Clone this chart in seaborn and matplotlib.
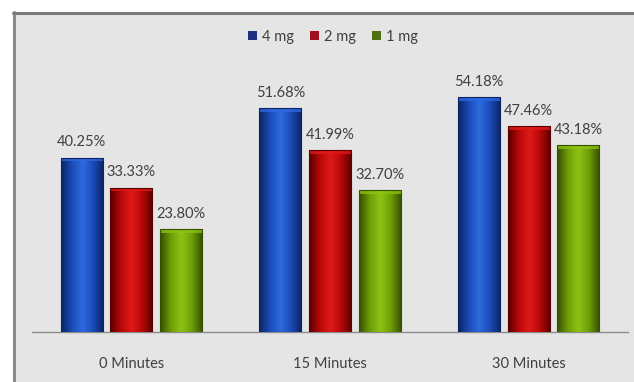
import numpy as np
import pandas as pd
import matplotlib
matplotlib.use("Agg")
import matplotlib.pyplot as plt
from matplotlib.patches import Rectangle
from matplotlib.colors import LinearSegmentedColormap
import seaborn as sns

# Data
times = ["0 Minutes", "15 Minutes", "30 Minutes"]
doses = ["4 mg", "2 mg", "1 mg"]
dose_4mg = [40.25, 51.68, 54.18]
dose_2mg = [33.33, 41.99, 47.46]
dose_1mg = [23.80, 32.70, 43.18]

df = pd.DataFrame({
    "time": times * 3,
    "dose": [doses[0]] * 3 + [doses[1]] * 3 + [doses[2]] * 3,
    "value": dose_4mg + dose_2mg + dose_1mg,
})

sns.set_theme(style="white")
plt.rcParams["font.family"] = ["Lato", "DejaVu Sans"]

base_colors = {"4 mg": "#1a4cb8", "2 mg": "#b80808", "1 mg": "#6f9e08"}
edge_colors = {"4 mg": "#0c2464", "2 mg": "#5a0000", "1 mg": "#345000"}
light_colors = {"4 mg": "#2f6ae0", "2 mg": "#e01a1a", "1 mg": "#8cc414"}
legend_colors = {"4 mg": "#1c2f80", "2 mg": "#a01020", "1 mg": "#4f7010"}

fig = plt.figure(figsize=(6.34, 3.82), dpi=100)
fig.patch.set_facecolor("white")

# Chart panel with a dark frame on the left and top
W, H = 634, 382
panel = Rectangle((13 / W, 0), 1 - 13 / W, 1 - 12 / H, transform=fig.transFigure,
                  facecolor="#e5e5e5", edgecolor="none", zorder=-10)
fig.patches.append(panel)
fig.add_artist(plt.Line2D([13.5 / W, 13.5 / W], [0, 1 - 12 / H], transform=fig.transFigure,
                          color="#8a8a8a", lw=2.2, zorder=-5))
fig.add_artist(plt.Line2D([13 / W, 1], [1 - 12.5 / H, 1 - 12.5 / H], transform=fig.transFigure,
                          color="#7a7a7a", lw=2.2, zorder=-5))

ax = fig.add_axes([32 / W, 50 / H, 596 / W, 260 / H])
ax.set_facecolor("none")
ax.set_zorder(1)

sns.barplot(data=df, x="time", y="value", hue="dose", order=times, hue_order=doses,
            palette=base_colors, width=0.75, gap=0.15, ax=ax, legend=False,
            edgecolor="none", zorder=2)

ax.set_ylim(0, 60)
ax.set_xlim(-0.5, 2.5)

# Shaded cylinder-like fill over each bar
for container, dose in zip(ax.containers, doses):
    cmap = LinearSegmentedColormap.from_list(
        dose, [edge_colors[dose], base_colors[dose], light_colors[dose],
               base_colors[dose], edge_colors[dose]])
    grad = np.linspace(0, 1, 64).reshape(1, -1)
    for bar in container:
        x0, y0 = bar.get_x(), bar.get_y()
        w, h = bar.get_width(), bar.get_height()
        im = ax.imshow(grad, cmap=cmap, aspect="auto", extent=(x0, x0 + w, y0, y0 + h),
                       zorder=3, interpolation="bicubic")
        im.set_clip_path(bar)
        ax.add_patch(Rectangle((x0, y0 + h - 0.9), w, 0.9, facecolor=light_colors[dose],
                               edgecolor="none", alpha=0.75, zorder=4))
        ax.add_patch(Rectangle((x0, y0), w, h, facecolor="none",
                               edgecolor=edge_colors[dose], lw=0.8, zorder=5))
    ax.bar_label(container, labels=[f"{v:.2f}%" for v in container.datavalues],
                 padding=6, fontsize=10.5, color="#404040", zorder=6)

ax.set_xlim(-0.5, 2.5)
ax.set_ylim(0, 60)

for side in ["top", "right", "left"]:
    ax.spines[side].set_visible(False)
ax.spines["bottom"].set_color("#8c8c8c")
ax.spines["bottom"].set_linewidth(1.0)
ax.set_yticks([])
ax.set_xlabel("")
ax.set_ylabel("")
ax.tick_params(axis="x", length=0, pad=18, labelsize=10.5, labelcolor="#404040")

# Legend at the top centre
handles = [Rectangle((0, 0), 1, 1, facecolor=legend_colors[d], edgecolor="none")
           for d in doses]
fig.legend(handles, doses, loc="center", bbox_to_anchor=(333 / W, 1 - 37 / H), ncol=3,
           frameon=False, fontsize=10.5, handlelength=0.6, handleheight=0.6,
           handletextpad=0.35, columnspacing=1.1, labelcolor="#404040")

fig.savefig("out.png", dpi=100, facecolor=fig.get_facecolor())
